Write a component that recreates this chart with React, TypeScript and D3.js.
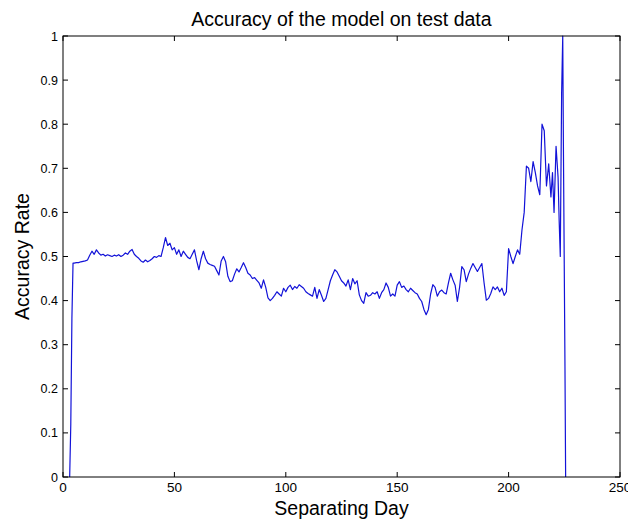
import React from "react";
import * as d3 from "d3";

const title = "Accuracy of the model on test data";
const xLabel = "Separating Day";
const yLabel = "Accuracy Rate";

const xTicks = [0, 50, 100, 150, 200, 250];
const yTicks = [0, 0.1, 0.2, 0.3, 0.4, 0.5, 0.6, 0.7, 0.8, 0.9, 1];

// Early ramp-up
const startDays = [3, 3.5, 4, 4.5];
const startValues = [0, 0.12, 0.36, 0.485];

// Daily values, days 5 .. 218
const dailyValues = [
  0.485, 0.486, 0.486, 0.488, 0.489, 0.49, 0.492, 0.503, 0.512, 0.505, // 5-14
  0.515, 0.508, 0.503, 0.505, 0.501, 0.504, 0.502, 0.5, 0.503, 0.501, // 15-24
  0.504, 0.5, 0.503, 0.508, 0.505, 0.512, 0.516, 0.505, 0.5, 0.496, // 25-34
  0.49, 0.487, 0.492, 0.488, 0.491, 0.495, 0.5, 0.498, 0.502, 0.5, // 35-44
  0.52, 0.543, 0.525, 0.53, 0.515, 0.52, 0.505, 0.515, 0.5, 0.512, // 45-54
  0.505, 0.498, 0.495, 0.505, 0.515, 0.49, 0.47, 0.495, 0.512, 0.495, // 55-64
  0.485, 0.482, 0.48, 0.478, 0.468, 0.458, 0.49, 0.5, 0.488, 0.455, // 65-74
  0.443, 0.445, 0.46, 0.472, 0.465, 0.475, 0.486, 0.475, 0.462, 0.458, // 75-84
  0.45, 0.452, 0.446, 0.44, 0.428, 0.447, 0.43, 0.406, 0.4, 0.405, // 85-94
  0.412, 0.42, 0.415, 0.41, 0.428, 0.42, 0.43, 0.435, 0.425, 0.432, // 95-104
  0.428, 0.436, 0.432, 0.428, 0.42, 0.416, 0.413, 0.41, 0.43, 0.405, // 105-114
  0.425, 0.412, 0.398, 0.405, 0.425, 0.445, 0.458, 0.47, 0.465, 0.455, // 115-124
  0.445, 0.44, 0.433, 0.447, 0.425, 0.45, 0.438, 0.445, 0.413, 0.4, // 125-134
  0.394, 0.418, 0.41, 0.412, 0.418, 0.415, 0.42, 0.405, 0.418, 0.425, // 135-144
  0.44, 0.43, 0.41, 0.415, 0.41, 0.435, 0.443, 0.43, 0.433, 0.425, // 145-154
  0.42, 0.428, 0.423, 0.418, 0.415, 0.405, 0.398, 0.38, 0.368, 0.38, // 155-164
  0.415, 0.436, 0.43, 0.41, 0.42, 0.424, 0.418, 0.415, 0.44, 0.462, // 165-174
  0.447, 0.435, 0.398, 0.43, 0.477, 0.47, 0.443, 0.46, 0.473, 0.484, // 175-184
  0.475, 0.466, 0.475, 0.484, 0.44, 0.401, 0.405, 0.416, 0.431, 0.425, // 185-194
  0.431, 0.42, 0.428, 0.412, 0.42, 0.518, 0.5, 0.484, 0.5, 0.515, // 195-204
  0.505, 0.56, 0.6, 0.705, 0.7, 0.67, 0.715, 0.69, 0.66, 0.64, // 205-214
  0.8, 0.785, 0.66, 0.71, // 215-218
];

// Final oscillating segment
const endDays = [219, 219.7, 220.4, 221.3, 222.2, 222.7, 223.2, 223.8, 224.3, 224.6, 225.3, 225.6];
const endValues = [0.635, 0.69, 0.6, 0.75, 0.68, 0.58, 0.5, 0.87, 1.0, 0.75, 0.25, 0];

const W = 628;
const H = 519;
const margin = { left: 63, right: 8, top: 36, bottom: 42 };

export default function App() {
  const days = [
    ...startDays,
    ...dailyValues.map((_, i) => 5 + i),
    ...endDays,
  ];
  const values = [...startValues, ...dailyValues, ...endValues];
  const points: [number, number][] = days.map((d, i) => [d, values[i]]);

  const x = d3.scaleLinear().domain([0, 250]).range([margin.left, W - margin.right]);
  const y = d3.scaleLinear().domain([0, 1]).range([H - margin.bottom, margin.top]);

  const line = d3
    .line<[number, number]>()
    .x((p) => x(p[0]))
    .y((p) => y(p[1]));

  const x0 = x(0), x1 = x(250), y0 = y(0), y1 = y(1);
  const tl = 5;
  const font = "'Liberation Sans', Arial, Helvetica, sans-serif";

  return (
    <svg
      width={W}
      height={H}
      style={{ position: "absolute", left: 0, top: 0, background: "#fff" }}
      fontFamily={font}
    >
      <rect x={0} y={0} width={W} height={H} fill="#fff" />
      <text x={(x0 + x1) / 2} y={26} textAnchor="middle" fontSize={19.5} fill="#000">
        {title}
      </text>
      <path d={line(points) || ""} fill="none" stroke="#1212d8" strokeWidth={1.2} strokeLinejoin="round" />
      <rect x={x0} y={y1} width={x1 - x0} height={y0 - y1} fill="none" stroke="#000" strokeWidth={1} />
      {xTicks.map((t) => (
        <g key={"x" + t}>
          <line x1={x(t)} x2={x(t)} y1={y0} y2={y0 - tl} stroke="#000" />
          <line x1={x(t)} x2={x(t)} y1={y1} y2={y1 + tl} stroke="#000" />
          <text x={x(t)} y={y0 + 15} textAnchor="middle" fontSize={13.5} fill="#000">
            {d3.format("d")(t)}
          </text>
        </g>
      ))}
      {yTicks.map((t) => (
        <g key={"y" + t}>
          <line x1={x0} x2={x0 + tl} y1={y(t)} y2={y(t)} stroke="#000" />
          <line x1={x1} x2={x1 - tl} y1={y(t)} y2={y(t)} stroke="#000" />
          <text x={x0 - 5} y={y(t) + 4.5} textAnchor="end" fontSize={12.5} fill="#000">
            {d3.format("~g")(t)}
          </text>
        </g>
      ))}
      <text x={(x0 + x1) / 2} y={515} textAnchor="middle" fontSize={19.5} fill="#000">
        {xLabel}
      </text>
      <text
        transform={`translate(29, ${(y0 + y1) / 2}) rotate(-90)`}
        textAnchor="middle"
        fontSize={19.5}
        fill="#000"
      >
        {yLabel}
      </text>
    </svg>
  );
}
